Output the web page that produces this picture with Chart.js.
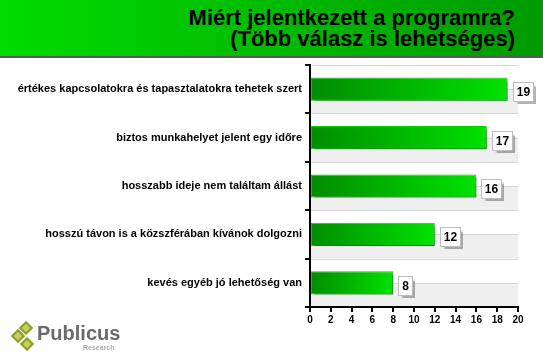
<!DOCTYPE html>
<html>
<head>
<meta charset="utf-8">
<script src="https://cdn.jsdelivr.net/npm/chart.js@4"></script>
<style>
html,body{margin:0;padding:0;background:#fff;}
#wrap{position:relative;width:543px;height:361px;overflow:hidden;font-family:"Liberation Sans",Arial,sans-serif;}
#c{position:absolute;left:0;top:0;}
#hdr{position:absolute;left:0;top:0;width:543px;height:56px;background:linear-gradient(to right,#00dc00,#009a00);border-bottom:2px solid #5a5a5a;}
#title{position:absolute;right:28px;top:7px;text-align:right;font-weight:bold;font-size:22px;line-height:21px;color:#000;}
.dm{position:absolute;width:6px;height:6px;border:2px solid #8e9e2a;background:#c6ce5e;transform:rotate(45deg);}
#pub{position:absolute;left:37px;top:322px;font-weight:bold;font-size:20px;color:#6a6a6a;letter-spacing:0px;}
#res{position:absolute;left:83px;top:344px;font-weight:bold;font-size:7px;color:#ababab;}
</style>
</head>
<body>
<div id="wrap">
<canvas id="c" width="543" height="361"></canvas>
<div id="hdr"><div id="title">Miért jelentkezett a programra?<br>(Több válasz is lehetséges)</div></div>
<div class="dm" style="left:21px;top:323px"></div>
<div class="dm" style="left:13px;top:331px"></div>
<div class="dm" style="left:22px;top:339px"></div>
<div id="pub">Publicus</div>
<div id="res">Research</div>
</div>
<script>
const categories = [
  "értékes kapcsolatokra és tapasztalatokra tehetek szert",
  "biztos munkahelyet jelent egy időre",
  "hosszabb ideje nem találtam állást",
  "hosszú távon is a közszférában kívánok dolgozni",
  "kevés egyéb jó lehetőség van"
];
const values = [19, 17, 16, 12, 8];
const xTicks = [0, 2, 4, 6, 8, 10, 12, 14, 16, 18, 20];

const FONT = '"Liberation Sans", Arial, sans-serif';

const bandsPlugin = {
  id: 'bands',
  beforeDraw(chart) {
    const {ctx, chartArea: a, scales: {y}} = chart;
    const n = categories.length;
    ctx.save();
    for (let j = 0; j < 2 * n; j++) {
      const t = y.getPixelForValue(j / 2 - 0.5);
      const b = y.getPixelForValue((j + 1) / 2 - 0.5);
      if (j % 2 === 1) {
        ctx.fillStyle = '#efefef';
        ctx.fillRect(a.left, t, a.right - a.left, b - t);
      }
    }
    ctx.strokeStyle = '#d6d6d6';
    ctx.lineWidth = 1;
    for (let j = 0; j < 2 * n; j++) {
      const p = Math.round(y.getPixelForValue(j / 2 - 0.5)) + 0.5;
      ctx.beginPath();
      ctx.moveTo(a.left, p);
      ctx.lineTo(a.right, p);
      ctx.stroke();
    }
    ctx.restore();
  }
};

const shadowPlugin = {
  id: 'barShadow',
  beforeDatasetDraw(chart) {
    const ctx = chart.ctx;
    ctx.save();
    ctx.shadowColor = 'rgba(0,0,0,0.35)';
    ctx.shadowOffsetX = 3;
    ctx.shadowOffsetY = 3;
    ctx.shadowBlur = 2;
  },
  afterDatasetDraw(chart) {
    chart.ctx.restore();
  }
};

const labelPlugin = {
  id: 'valLabels',
  afterDatasetsDraw(chart) {
    const ctx = chart.ctx;
    const meta = chart.getDatasetMeta(0);
    ctx.save();
    ctx.font = 'bold 12px ' + FONT;
    meta.data.forEach((el, i) => {
      const txt = String(values[i]);
      const w = ctx.measureText(txt).width;
      const bw = Math.round(w + 7), bh = 19;
      const left = Math.round(el.x + 5) + 0.5;
      const top = Math.round(el.y - 7) + 0.5;
      ctx.save();
      ctx.shadowColor = 'rgba(0,0,0,0.3)';
      ctx.shadowOffsetX = 2;
      ctx.shadowOffsetY = 2;
      ctx.shadowBlur = 1;
      ctx.fillStyle = '#fff';
      ctx.fillRect(left, top, bw, bh);
      ctx.restore();
      ctx.strokeStyle = '#bdbdbd';
      ctx.lineWidth = 1;
      ctx.strokeRect(left, top, bw, bh);
      ctx.fillStyle = '#000';
      ctx.textAlign = 'center';
      ctx.textBaseline = 'middle';
      ctx.fillText(txt, left + bw / 2, top + bh / 2 + 1);
    });
    ctx.restore();
  }
};

new Chart(document.getElementById('c'), {
  type: 'bar',
  data: {
    labels: categories,
    datasets: [{
      data: values,
      backgroundColor: (c) => {
        const chart = c.chart;
        if (!chart.chartArea || c.type !== 'data') return '#00b000';
        const x0 = chart.scales.x.getPixelForValue(0);
        const x1 = chart.scales.x.getPixelForValue(c.raw);
        const g = chart.ctx.createLinearGradient(x0, 0, x1, 0);
        g.addColorStop(0, '#008c00');
        g.addColorStop(1, '#00e200');
        return g;
      },
      borderColor: '#00d400',
      borderWidth: 1,
      borderSkipped: false,
      categoryPercentage: 1,
      barPercentage: 0.48
    }]
  },
  options: {
    responsive: false,
    animation: false,
    indexAxis: 'y',
    layout: {padding: {top: 65, right: 25, bottom: 0, left: 0}},
    plugins: {legend: {display: false}, tooltip: {enabled: false}},
    scales: {
      x: {
        min: 0, max: 20,
        afterBuildTicks: (s) => { s.ticks = xTicks.map(v => ({value: v})); },
        afterFit: (s) => { s.height = 54; },
        border: {display: true, color: '#000', width: 2},
        grid: {drawOnChartArea: false, drawTicks: true, tickLength: 5, color: '#000', lineWidth: 2},
        ticks: {color: '#000', padding: 2, font: {family: FONT, size: 10, weight: 'bold'}}
      },
      y: {
        afterFit: (s) => { s.width = 310; },
        border: {display: true, color: '#000', width: 2},
        grid: {offset: true, drawOnChartArea: false, drawTicks: true, tickLength: 5, color: '#000', lineWidth: 2},
        ticks: {color: '#000', padding: 3, font: {family: FONT, size: 11, weight: 'bold'}}
      }
    }
  },
  plugins: [bandsPlugin, shadowPlugin, labelPlugin]
});
</script>
</body>
</html>
